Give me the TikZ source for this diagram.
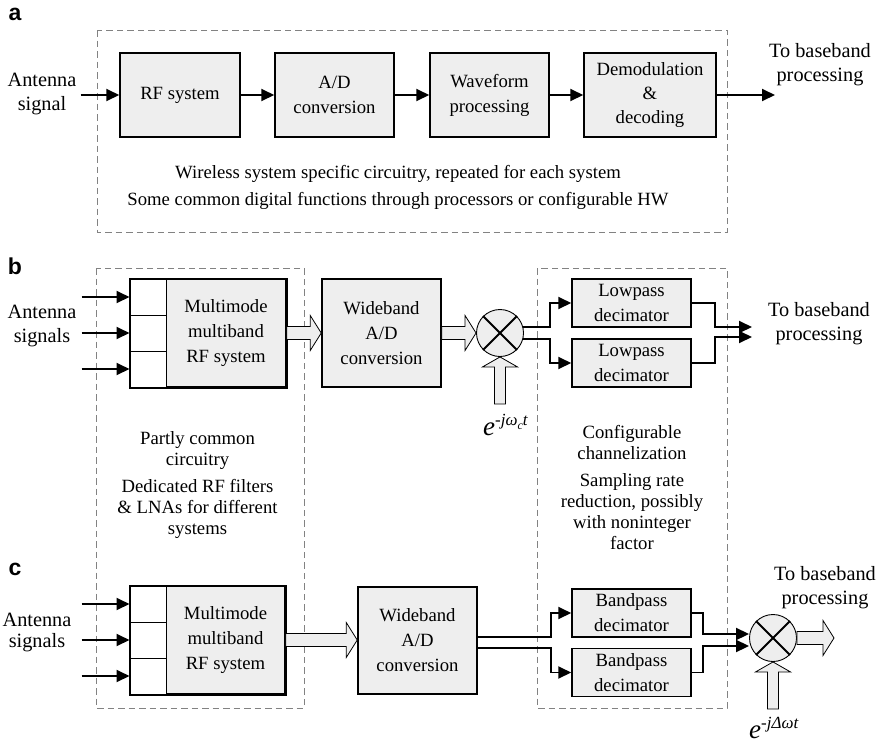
\documentclass[tikz,border=0pt]{standalone}
\usepackage{fontspec}
\setmainfont{Liberation Serif}
\newfontfamily\panelfont{Liberation Sans}
\usetikzlibrary{arrows.meta,calc}

\definecolor{boxgray}{RGB}{238,238,238}
\definecolor{frame}{RGB}{130,130,130}

% horizontal hollow arrow from #1 to #2 (same height)
\newcommand\hollowh[2]{%
  \draw[hollow] let \p1=#1, \p2=#2 in
    (\x1,\y1+6.5pt) -- (\x2-11pt,\y1+6.5pt) -- (\x2-11pt,\y1+17.5pt) -- (\x2,\y1)
    -- (\x2-11pt,\y1-17.5pt) -- (\x2-11pt,\y1-6.5pt) -- (\x1,\y1-6.5pt) -- cycle;}
% upward hollow arrow from #1 (below) to #2 (tip)
\newcommand\hollowv[2]{%
  \draw[hollow] let \p1=#1, \p2=#2 in
    (\x2-5.5pt,\y1) -- (\x2-5.5pt,\y2-10pt) -- (\x2-17.5pt,\y2-10pt) -- (\x2,\y2)
    -- (\x2+17.5pt,\y2-10pt) -- (\x2+5.5pt,\y2-10pt) -- (\x2+5.5pt,\y1) -- cycle;}
% italic exponential e^{...}: #1 = exponent text
\newcommand\expterm[1]{{\fontsize{27}{27}\selectfont\itshape e\raisebox{10pt}{\fontsize{17}{17}\selectfont #1}}}
\newcommand\lowidx[1]{\raisebox{-4pt}{\fontsize{12}{12}\selectfont #1}}

\begin{document}
\begin{tikzpicture}[x=1pt,y=-1pt,
  blk/.style={draw, line width=1.5pt, fill=boxgray, inner sep=0pt, align=center,
    font=\fontsize{18.7}{25}\selectfont},
  cell/.style={draw, line width=1pt, fill=white, minimum width=36pt, minimum height=36pt, inner sep=0pt},
  lbl/.style={align=center, inner sep=0pt, font=\fontsize{20.3}{24}\selectfont},
  note/.style={align=center, inner sep=0pt, font=\fontsize{18.7}{21}\selectfont},
  panel/.style={inner sep=0pt, font=\panelfont\bfseries\fontsize{23}{26}\selectfont},
  group/.style={draw=frame, line width=0.8pt, dash pattern=on 6.5pt off 4pt},
  sig/.style={line width=1.9pt, -{Triangle[length=13pt,width=12pt]}},
  hollow/.style={draw, line width=0.8pt, fill=boxgray},
  mixer/.style={draw, circle, line width=0.9pt, fill=boxgray, minimum size=47pt, inner sep=0pt},
  cross/.style={line width=1.8pt},
  expo/.style={inner sep=0pt, anchor=base west}
]
\useasboundingbox (0,0) rectangle (879,745);

% ---------------- (a) ----------------
\node[panel] (pa) at (15,14) {a};
\draw[group] (97,30) rectangle (727,232);
\node[lbl] (ina) at (42,94) {Antenna\\signal};
\node[blk, minimum width=120pt, minimum height=84pt] (rf) at (180,95) {RF system};
\node[blk, minimum width=119pt, minimum height=84pt] (ad) at (334.5,95) {A/D\\conversion};
\node[blk, minimum width=119pt, minimum height=84pt] (wf) at (489.5,95) {Waveform\\processing};
\node[blk, minimum width=132pt, minimum height=84pt, font=\fontsize{18.7}{24}\selectfont] (dm) at (650,95) {Demodulation\\\&\\decoding};
\coordinate (outa) at (775,95);
\node[lbl] (toa) at (820,65) {To baseband\\processing};
\draw[sig] (ina.east |- rf.west) ++(4,0) -- (rf.west);
\draw[sig] (rf) -- (ad);
\draw[sig] (ad) -- (wf);
\draw[sig] (wf) -- (dm);
\draw[sig] (dm) -- (outa);
\node[note, font=\fontsize{18.7}{27}\selectfont] (desca) at (398,187.5)
  {Wireless system specific circuitry, repeated for each system\\
   Some common digital functions through processors or configurable HW};

% ---------------- (b) ----------------
\node[panel] (pb) at (15,266) {b};
\draw[group] (96,268) rectangle (304,708);
\draw[group] (537,268) rectangle (727,708);

\node[lbl] (inb) at (42,326) {Antenna\\signals};
\node[blk, minimum width=120pt, minimum height=108pt] (mmb) at (226,333) {Multimode\\multiband\\RF system};
\node[cell] (cb1) at (148,297) {};
\node[cell] (cb2) at (148,333) {};
\node[cell] (cb3) at (148,369) {};
\draw[line width=1.5pt] (cb1.north west) rectangle (mmb.south east);
\foreach \i in {1,2,3} {
  \coordinate (sb\i) at ($(cb\i.west)+(-48,0)$);
  \draw[sig] (sb\i) -- (cb\i.west);
}
\node[blk, minimum width=119pt, minimum height=108pt] (wbb) at (381.5,333) {Wideband\\A/D\\conversion};
\node[mixer] (mixb) at (500,333) {};
\draw[cross] (mixb.45) -- (mixb.225) (mixb.135) -- (mixb.-45);
\hollowh{(mmb.east)}{(wbb.west)}
\hollowh{(wbb.east)}{(mixb.west)}
\coordinate (lob) at (500.5,404);
\hollowv{(lob)}{(mixb.south)}
\node[expo] (eb) at (483,435) {\expterm{-jω\lowidx{c}t}};

\node[blk, minimum width=119pt, minimum height=48pt] (lp1) at (631.5,303) {Lowpass\\decimator};
\node[blk, minimum width=119pt, minimum height=48pt] (lp2) at (631.5,363) {Lowpass\\decimator};
\draw[sig] (mixb.15) -- ++(27,0) |- (lp1.west);
\draw[sig] (mixb.-15) -- ++(27,0) |- (lp2.west);
\coordinate (ob1) at (752,327);
\coordinate (ob2) at (752,337);
\draw[sig] (lp1.east) -- ++(23,0) |- (ob1);
\draw[sig] (lp2.east) -- ++(23,0) |- (ob2);
\node[lbl] (tob) at (819,324) {To baseband\\processing};

\node[note] (nb1) at (197.5,450.5) {Partly common\\circuitry};
\node[note] (nb2) at (197.5,509) {Dedicated RF filters\\\& LNAs for different\\systems};
\node[note] (nb3) at (632,442.5) {Configurable\\channelization};
\node[note] (nb4) at (632,511.5) {Sampling rate\\reduction, possibly\\with noninteger\\factor};

% ---------------- (c) ----------------
\node[panel] (pc) at (15,569) {c};
\node[lbl, font=\fontsize{20.3}{21}\selectfont] (inc) at (37,632) {Antenna\\signals};
\node[blk, minimum width=119pt, minimum height=108pt] (mmc) at (225.5,640) {Multimode\\multiband\\RF system};
\node[cell] (cc1) at (148,604) {};
\node[cell] (cc2) at (148,640) {};
\node[cell] (cc3) at (148,676) {};
\draw[line width=1.5pt] (cc1.north west) rectangle (mmc.south east);
\foreach \i in {1,2,3} {
  \coordinate (sc\i) at ($(cc\i.west)+(-48,0)$);
  \draw[sig] (sc\i) -- (cc\i.west);
}
\node[blk, minimum width=119pt, minimum height=107pt] (wbc) at (417.5,640.5) {Wideband\\A/D\\conversion};
\hollowh{(mmc.east)}{(wbc.west)}

\node[blk, minimum width=119pt, minimum height=48pt] (bp1) at (631.5,613) {Bandpass\\decimator};
\node[blk, minimum width=119pt, minimum height=48pt] (bp2) at (631.5,672.5) {Bandpass\\decimator};
\draw[sig] ($(wbc.east)+(0,-3.5)$) -- ++(73,0) |- (bp1.west);
\draw[sig] ($(wbc.east)+(0,7.5)$) -- ++(73,0) |- (bp2.west);

\node[mixer] (mixc) at (773,638) {};
\draw[cross] (mixc.45) -- (mixc.225) (mixc.135) -- (mixc.-45);
\draw[sig] (bp1.east) -- ++(11,0) |- ($(mixc.west)+(0,-4)$);
\draw[sig] (bp2.east) -- ++(11,0) |- ($(mixc.west)+(0,8)$);
\coordinate (oc) at (834,638);
\hollowh{(mixc.east)}{(oc)}
\coordinate (loc) at (774.5,709);
\hollowv{(loc)}{(mixc.south)}
\node[expo] (ec) at (749,738) {\expterm{-jΔωt}};
\node[lbl] (toc) at (825,588) {To baseband\\processing};
\end{tikzpicture}
\end{document}
